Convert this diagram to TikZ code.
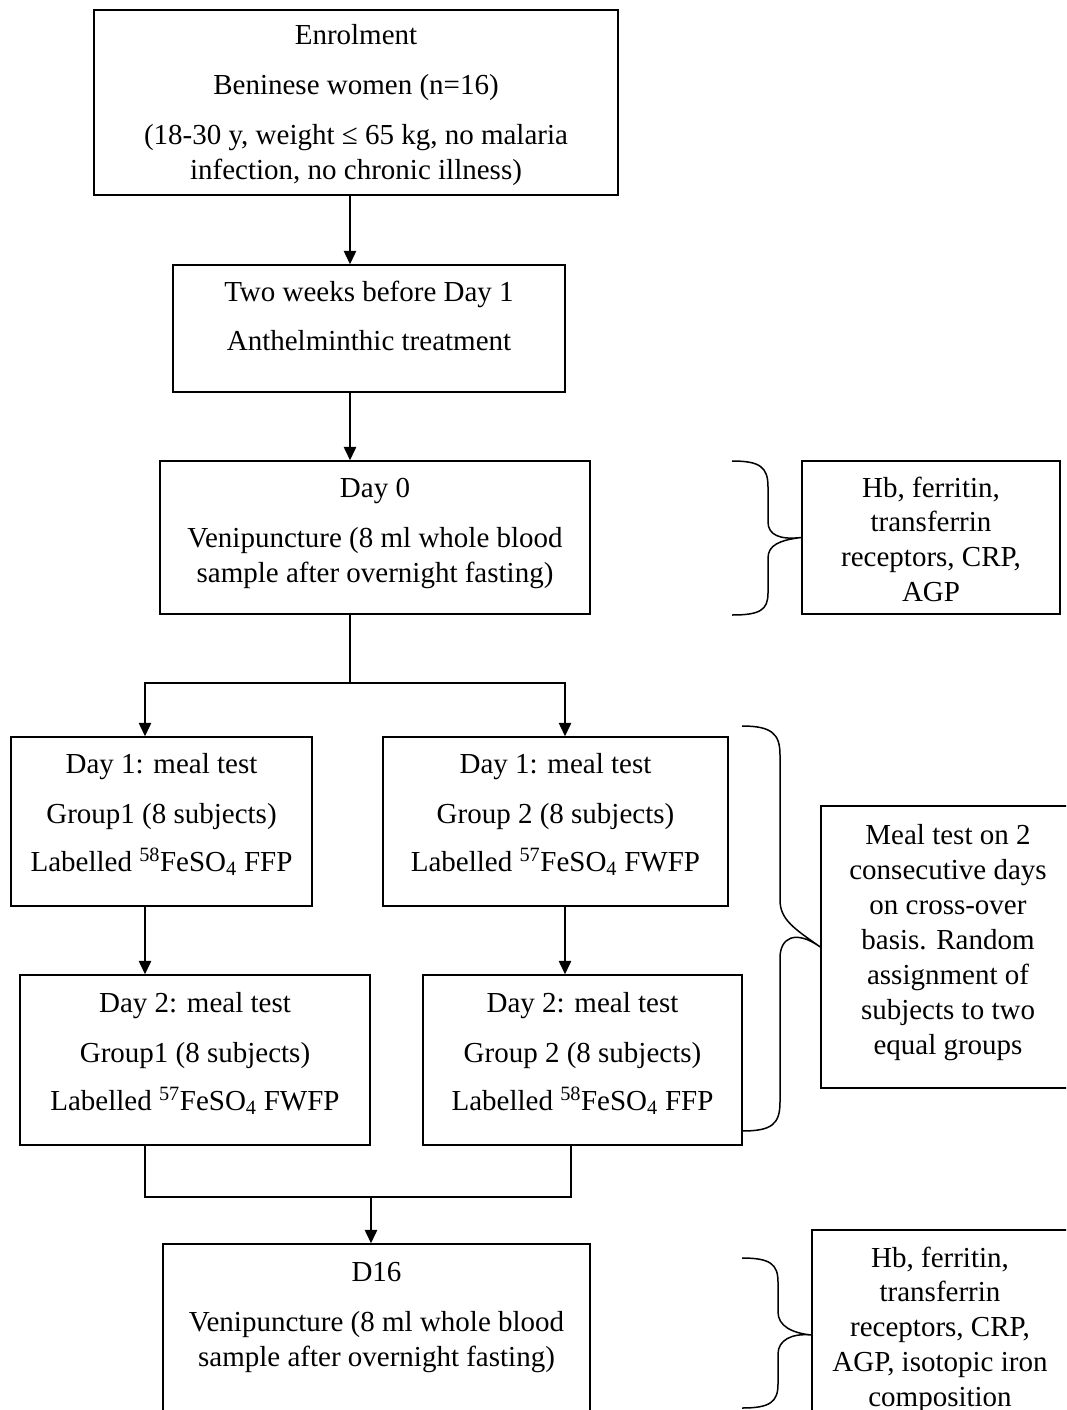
\documentclass[tikz,border=0pt]{standalone}
\usepackage{fontspec}
\setmainfont{Liberation Serif}
\usetikzlibrary{arrows.meta}
\begin{document}
\begin{tikzpicture}[x=1pt,y=-1pt,
  box/.style={draw,line width=1.5pt,rectangle,inner sep=0pt},
  txt/.style={anchor=base,inner sep=0pt,font=\fontsize{29}{35}\selectfont},
  arr/.style={line width=1.5pt,-{Triangle[width=12.5pt,length=13.5pt]}},
  ln/.style={line width=1.5pt},
  brc/.style={line width=1.5pt}]
\useasboundingbox (0,0) rectangle (1066,1410);
\clip (0,0) rectangle (1066,1410);
% boxes
\node[box,minimum width=524pt,minimum height=185pt] (top) at (356,102.5) {};
\node[box,minimum width=392pt,minimum height=127pt] (b2) at (369,328.5) {};
\node[box,minimum width=430pt,minimum height=153pt] (d0) at (375,537.5) {};
\node[box,minimum width=258pt,minimum height=153pt] (r1) at (931,537.5) {};
\node[box,minimum width=301pt,minimum height=169pt] (d1l) at (161.5,821.5) {};
\node[box,minimum width=345pt,minimum height=169pt] (d1r) at (555.5,821.5) {};
\node[box,minimum width=350pt,minimum height=170pt] (d2l) at (195,1060) {};
\node[box,minimum width=319pt,minimum height=170pt] (d2r) at (582.5,1060) {};
\node[box,minimum width=254pt,minimum height=282pt] (meal) at (948,947) {};
\node[box,minimum width=427pt,minimum height=196pt] (d16) at (376.5,1342) {};
\node[box,minimum width=257pt,minimum height=210pt] (r3) at (940.5,1335) {};
% texts
\node[txt] (t1) at (356,45) {Enrolment};
\node[txt] (t2) at (356,95) {Beninese women (n=16)};
\node[txt] (t3) at (356,144) {(18-30 y, weight ≤ 65 kg, no malaria};
\node[txt] (t4) at (356,179) {infection, no chronic illness)};
\node[txt] (t5) at (369,301) {Two weeks before Day 1};
\node[txt] (t6) at (369,350) {Anthelminthic treatment};
\node[txt] (t7) at (375,497) {Day 0};
\node[txt] (t8) at (375,547) {Venipuncture (8 ml whole blood};
\node[txt] (t9) at (375,582) {sample after overnight fasting)};
\node[txt] (t10) at (931,497) {Hb, ferritin,};
\node[txt] (t11) at (931,531) {transferrin};
\node[txt] (t12) at (931,566) {receptors, CRP,};
\node[txt] (t13) at (931,601) {AGP};
\node[txt] (t14) at (161.5,773) {Day 1: meal test};
\node[txt] (t15) at (161.5,823) {Group1 (8 subjects)};
\node[txt] (t16) at (161.5,871) {Labelled \textsuperscript{58}FeSO\textsubscript{4} FFP};
\node[txt] (t17) at (555.5,773) {Day 1: meal test};
\node[txt] (t18) at (555.5,823) {Group 2 (8 subjects)};
\node[txt] (t19) at (555.5,871) {Labelled \textsuperscript{57}FeSO\textsubscript{4} FWFP};
\node[txt] (t20) at (195,1012) {Day 2: meal test};
\node[txt] (t21) at (195,1062) {Group1 (8 subjects)};
\node[txt] (t22) at (195,1110) {Labelled \textsuperscript{57}FeSO\textsubscript{4} FWFP};
\node[txt] (t23) at (582.5,1012) {Day 2: meal test};
\node[txt] (t24) at (582.5,1062) {Group 2 (8 subjects)};
\node[txt] (t25) at (582.5,1110) {Labelled \textsuperscript{58}FeSO\textsubscript{4} FFP};
\node[txt] (t26) at (948,844) {Meal test on 2};
\node[txt] (t27) at (948,879) {consecutive days};
\node[txt] (t28) at (948,914) {on cross-over};
\node[txt] (t29) at (948,949) {basis. Random};
\node[txt] (t30) at (948,984) {assignment of};
\node[txt] (t31) at (948,1019) {subjects to two};
\node[txt] (t32) at (948,1054) {equal groups};
\node[txt] (t33) at (376.5,1281) {D16};
\node[txt] (t34) at (376.5,1331) {Venipuncture (8 ml whole blood};
\node[txt] (t35) at (376.5,1366) {sample after overnight fasting)};
\node[txt] (t36) at (940,1267) {Hb, ferritin,};
\node[txt] (t37) at (940,1301) {transferrin};
\node[txt] (t38) at (940,1336) {receptors, CRP,};
\node[txt] (t39) at (940,1371) {AGP, isotopic iron};
\node[txt] (t40) at (940,1406) {composition};
% connector coordinates
\coordinate (c0) at (350,0);
\coordinate (s0) at (350,683);
\coordinate (cL) at (145,0);
\coordinate (cR) at (565,0);
\coordinate (jL) at (145,1197);
\coordinate (jR) at (571,1197);
\coordinate (jM) at (371,1197);
% connectors
\draw[arr] (top.south -| c0) -- (b2.north -| c0);
\draw[arr] (b2.south -| c0) -- (d0.north -| c0);
\draw[ln] (d0.south -| s0) -- (s0);
\draw[arr] (s0) -| (d1l.north -| cL);
\draw[arr] (s0) -| (d1r.north -| cR);
\draw[arr] (d1l.south -| cL) -- (d2l.north -| cL);
\draw[arr] (d1r.south -| cR) -- (d2r.north -| cR);
\draw[ln] (d2l.south -| jL) -- (jL) -- (jR) -- (d2r.south -| jR);
\draw[arr] (jM) -- (d16.north -| jM);
% braces
\draw[brc] (732,461) .. controls (760,461) and (768,467) .. (768,487) -- (768,522)
  .. controls (768,535) and (780,540) .. (r1.west)
  .. controls (780,540) and (768,545) .. (768,558) -- (768,593)
  .. controls (768,610) and (760,615) .. (732,615);
\draw[brc] (742,726) .. controls (772,726) and (780,734) .. (780,755) -- (780,900)
  .. controls (780,920) and (795,929) .. (meal.west)
  .. controls (795,929) and (780,938) .. (780,958) -- (780,1102)
  .. controls (780,1124) and (772,1131) .. (742,1131);
\draw[brc] (742,1258) .. controls (770,1258) and (778,1264) .. (778,1282) -- (778,1312)
  .. controls (778,1326) and (792,1333) .. (r3.west)
  .. controls (792,1333) and (778,1340) .. (778,1354) -- (778,1384)
  .. controls (778,1402) and (770,1408) .. (742,1408);
\end{tikzpicture}
\end{document}
